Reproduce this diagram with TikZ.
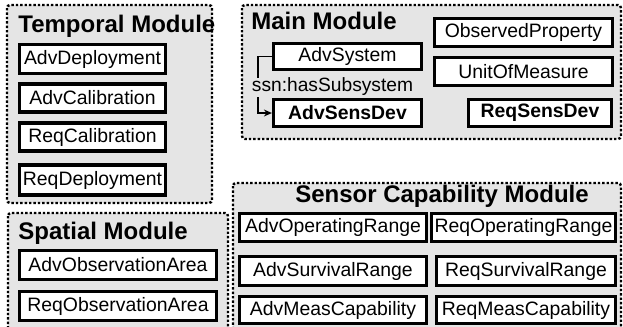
\documentclass[tikz,border=0pt]{standalone}
\usepackage{fontspec}
\setmainfont{Liberation Sans}
\usetikzlibrary{arrows.meta}
\tikzset{
  module/.style={draw=black, fill=black!10, densely dotted, line width=1.2pt, rounded corners=1.5pt},
  cls/.style={shape=rectangle, draw=black, fill=white, line width=1.6pt, inner sep=0pt, font=\fontsize{9.7}{11}\selectfont},
  modtitle/.style={inner sep=0pt, font=\fontsize{12}{14}\selectfont\bfseries},
}
\begin{document}
\begin{tikzpicture}[x=0.5pt, y=-0.5pt]
\useasboundingbox (0,0) rectangle (623,327);
% modules
\draw[module] (7,5) rectangle (212,203);
\draw[module] (242,5) rectangle (621,139);
\draw[module] (8,213) rectangle (228,332);
\draw[module] (233,183) rectangle (621,332);
\node[modtitle, anchor=west] (temporal) at (18,26) {Temporal Module};
\node[modtitle, anchor=west] (main) at (251,21) {Main Module};
\node[modtitle, anchor=west] (spatial) at (18,233) {Spatial Module};
\node[modtitle] (sensor) at (442,196) {Sensor Capability Module};
% temporal module
\node[cls, minimum width=73pt, minimum height=14.5pt] (advdep) at (92.5,59) {AdvDeployment};
\node[cls, minimum width=73pt, minimum height=14pt] (advcal) at (92.5,98) {AdvCalibration};
\node[cls, minimum width=73pt, minimum height=14pt] (reqcal) at (92.5,137) {ReqCalibration};
\node[cls, minimum width=73pt, minimum height=15pt] (reqdep) at (92.5,180) {ReqDeployment};
% main module
\node[cls, minimum width=89pt, minimum height=14pt] (obsprop) at (523.5,32.5) {ObservedProperty};
\node[cls, minimum width=89pt, minimum height=14pt] (unit) at (523.5,71.5) {UnitOfMeasure};
\node[cls, minimum width=74pt, minimum height=13pt] (advsys) at (347.5,56.5) {AdvSystem};
\node[cls, minimum width=74pt, minimum height=13.5pt, font=\fontsize{9.7}{11}\selectfont\bfseries] (advsens) at (347.5,113) {AdvSensDev};
\node[cls, minimum width=71.5pt, minimum height=13.5pt, font=\fontsize{9.7}{11}\selectfont\bfseries] (reqsens) at (540,113) {ReqSensDev};
\node[inner sep=0pt, font=\fontsize{9.6}{11}\selectfont] (hassub) at (332.5,87) {ssn:hasSubsystem};
\coordinate (sub1) at (258,78);
\coordinate (sub2) at (258,97);
\draw[line width=0.9pt] (advsys.west) -| (sub1);
\draw[-{Stealth[length=4pt, width=3.5pt]}, line width=0.9pt] (sub2) |- (advsens.west);
% spatial module
\node[cls, minimum width=98.5pt, minimum height=14.5pt] (advarea) at (118,265) {AdvObservationArea};
\node[cls, minimum width=98.5pt, minimum height=14.5pt] (reqarea) at (118,306) {ReqObservationArea};
% sensor capability module
\node[cls, minimum width=93.5pt, minimum height=14pt] (advop) at (333,227.5) {AdvOperatingRange};
\node[cls, minimum width=92pt, minimum height=14pt] (reqop) at (523.5,227.5) {ReqOperatingRange};
\node[cls, minimum width=93.5pt, minimum height=14.5pt] (advsurv) at (333,271) {AdvSurvivalRange};
\node[cls, minimum width=89.5pt, minimum height=14.5pt] (reqsurv) at (526,271) {ReqSurvivalRange};
\node[cls, minimum width=93.5pt, minimum height=13.5pt] (advmeas) at (333,310) {AdvMeasCapability};
\node[cls, minimum width=89.5pt, minimum height=13.5pt] (reqmeas) at (526,310) {ReqMeasCapability};
\end{tikzpicture}
\end{document}
